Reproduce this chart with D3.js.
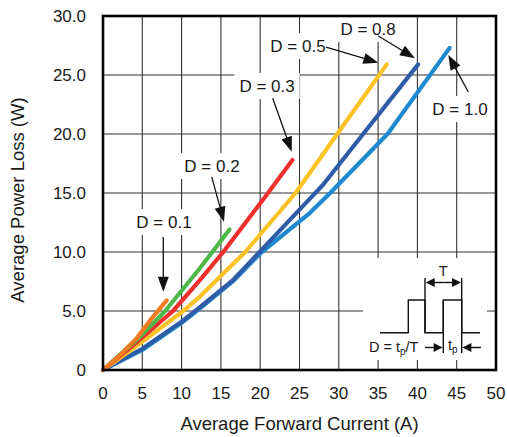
<!DOCTYPE html>
<html><head><meta charset="utf-8">
<script src="https://cdn.jsdelivr.net/npm/d3@7"></script>
<style>
html,body{margin:0;padding:0;background:#fff;}
svg text{font-family:"Liberation Sans",Arial,sans-serif;fill:#1a1a1a;}
</style></head>
<body>
<svg id="c" width="507" height="437"></svg>
<script>
// ---- data ----
const seriesNames = ["D = 1.0","D = 0.8","D = 0.5","D = 0.3","D = 0.2","D = 0.1"];
const current10 = [0,5,10,12.3,16.5,20.2,26.3,28.9,36.2,44.1];
const power10   = [0,1.7,4.0,5.2,7.5,10.0,13.3,15.0,20.0,27.3];
const current08 = [0,5,10,12.3,16.5,20.2,26.3,28.0,33.1,40.1];
const power08   = [0,1.8,4.1,5.3,7.6,10.2,14.5,15.7,20.0,25.9];
const current05 = [0,4,10.2,12.3,18.1,24.5,29.8,36.1];
const power05   = [0,1.9,5.0,6.2,10.0,15.0,20.0,25.9];
const current03 = [0,4,8.9,12.3,15.3,21.0,24.1];
const power03   = [0,2.2,5.0,7.6,10.0,15.0,17.8];
const current02 = [0,5,7.9,12.3,16.1];
const power02   = [0,3.0,5.0,8.6,11.9];
const current01 = [0,2,4.3,6,8.1];
const power01   = [0,1.15,2.7,4.2,5.9];
const xTicks = [0,5,10,15,20,25,30,35,40,45,50];
const yTicks = [0,5,10,15,20,25,30];
const yTickLabels = ["0","5.0","10.0","15.0","20.0","25.0","30.0"];

// ---- styling / layout ----
const colors = {"D = 1.0":"#1f89cf","D = 0.8":"#2e5ca6","D = 0.5":"#fdc226","D = 0.3":"#ee2f2c","D = 0.2":"#4db748","D = 0.1":"#f47b20"};
const seriesData = {
  "D = 1.0":[current10,power10],"D = 0.8":[current08,power08],"D = 0.5":[current05,power05],
  "D = 0.3":[current03,power03],"D = 0.2":[current02,power02],"D = 0.1":[current01,power01]
};
// annotation placement in data coordinates: text centre/baseline, arrow start, arrow tip
const annot = [
  {t:"D = 0.1", tx:7.76, ty:12.03, ax:7.67, ay:11.27, bx:7.67, by:6.64},
  {t:"D = 0.2", tx:13.87, ty:16.78, ax:13.83, ay:16.36, bx:15.39, by:12.57},
  {t:"D = 0.3", tx:20.87, ty:23.56, ax:21.59, ay:23.03, bx:24.01, by:18.5},
  {t:"D = 0.5", tx:24.81, ty:26.95, ax:28.37, ay:27.37, bx:35.03, by:26.04},
  {t:"D = 0.8", tx:33.72, ty:28.39, ax:35.03, ay:28.31, bx:39.69, by:26.42},
  {t:"D = 1.0", tx:45.42, ty:21.61, ax:46.48, ay:23.56, bx:43.93, by:26.69}
];

const L=103, R=496, T=16, B=370;
const x = d3.scaleLinear().domain([0,50]).range([L,R]);
const y = d3.scaleLinear().domain([0,30]).range([B,T]);
const svg = d3.select("#c");

// grid
const g = svg.append("g");
g.selectAll("line.vx").data(xTicks.slice(1,-1)).enter().append("line")
  .attr("x1",d=>x(d)).attr("x2",d=>x(d)).attr("y1",T).attr("y2",B)
  .attr("stroke","#333").attr("stroke-width",1.1);
g.selectAll("line.hy").data(yTicks.slice(1,-1)).enter().append("line")
  .attr("x1",L).attr("x2",R).attr("y1",d=>y(d)).attr("y2",d=>y(d))
  .attr("stroke","#333").attr("stroke-width",1.1);

// inset white area
svg.append("rect").attr("x",363).attr("y",258).attr("width",124).attr("height",102).attr("fill","#fff");

// tick labels
svg.selectAll("text.xt").data(xTicks).enter().append("text")
  .attr("x",d=>x(d)).attr("y",398.5).attr("text-anchor","middle")
  .attr("font-size",17).text(d=>d);
svg.selectAll("text.yt").data(yTicks).enter().append("text")
  .attr("x",86).attr("y",d=>y(d)+6).attr("text-anchor","end")
  .attr("font-size",17).text((d,i)=>yTickLabels[i]);
svg.append("text").attr("x",(L+R)/2).attr("y",430).attr("text-anchor","middle")
  .attr("font-size",18.5).text("Average Forward Current (A)");
svg.append("text").attr("transform","translate(23.5,200) rotate(-90)").attr("text-anchor","middle")
  .attr("font-size",18.5).text("Average Power Loss (W)");

// label boxes + text
const annG = svg.append("g");
annot.forEach(a=>{
  const t = annG.append("text").attr("x",x(a.tx)).attr("y",y(a.ty)).attr("text-anchor","middle")
    .attr("font-size",17).text(a.t);
  const w = t.node().getComputedTextLength();
  annG.insert("rect","text").attr("x",x(a.tx)-w/2-5).attr("y",y(a.ty)-19).attr("width",w+10).attr("height",26)
    .attr("fill","#fff");
});

// curves
const line = d3.line().x(d=>x(d[0])).y(d=>y(d[1]));
seriesNames.forEach(n=>{
  const [cx,py] = seriesData[n];
  const pts = cx.map((v,i)=>[v,py[i]]);
  svg.append("path").datum(pts).attr("d",line).attr("fill","none")
    .attr("stroke",colors[n]).attr("stroke-width",4.2)
    .attr("stroke-linecap","round").attr("stroke-linejoin","round");
});

// arrows
function arrow(sel,x1,y1,x2,y2,len,hw,sw){
  const dx=x2-x1, dy=y2-y1, d=Math.hypot(dx,dy), ux=dx/d, uy=dy/d;
  const bx=x2-ux*len, by=y2-uy*len;
  sel.append("line").attr("x1",x1).attr("y1",y1).attr("x2",bx+ux*1).attr("y2",by+uy*1)
    .attr("stroke","#111").attr("stroke-width",sw);
  sel.append("path").attr("d",`M${x2},${y2}L${bx-uy*hw},${by+ux*hw}L${bx+uy*hw},${by-ux*hw}Z`).attr("fill","#111");
}
annot.forEach(a=>arrow(svg,x(a.ax),y(a.ay),x(a.bx),y(a.by),15,5.5,1.3));

// inset pulse diagram
const ins = svg.append("g");
const lo=332.7, hi=300;
ins.append("path").attr("d",`M380,${lo}H408.3V${hi}H425V${lo}H443.3V${hi}H461.7V${lo}H480`)
  .attr("fill","none").attr("stroke","#111").attr("stroke-width",1.4);
ins.append("line").attr("x1",425).attr("x2",425).attr("y1",278).attr("y2",lo).attr("stroke","#111").attr("stroke-width",1.4);
ins.append("line").attr("x1",461.7).attr("x2",461.7).attr("y1",278).attr("y2",353).attr("stroke","#111").attr("stroke-width",1.4);
ins.append("line").attr("x1",443.3).attr("x2",443.3).attr("y1",hi).attr("y2",353).attr("stroke","#111").attr("stroke-width",1.4);
arrow(ins,443.3,282.5,425.7,282.5,9,4.5,1.4);
arrow(ins,443.3,282.5,461,282.5,9,4.5,1.4);
arrow(ins,425,347.5,442.6,347.5,9,4.5,1.4);
arrow(ins,481,347.5,462.4,347.5,9,4.5,1.4);
ins.append("text").attr("x",443.3).attr("y",276).attr("text-anchor","middle").attr("font-size",14.5).text("T");
const t1 = ins.append("text").attr("x",369).attr("y",352).attr("font-size",14.5);
t1.append("tspan").text("D = t");
t1.append("tspan").attr("font-size",10).attr("dy",3).text("p");
t1.append("tspan").attr("dy",-3).text("/T");
const t2 = ins.append("text").attr("x",448).attr("y",350).attr("font-size",14.5);
t2.append("tspan").text("t");
t2.append("tspan").attr("font-size",10).attr("dy",3).text("p");

// frame
svg.append("rect").attr("x",L).attr("y",T).attr("width",R-L).attr("height",B-T)
  .attr("fill","none").attr("stroke","#000").attr("stroke-width",2.6);
</script>
</body></html>
